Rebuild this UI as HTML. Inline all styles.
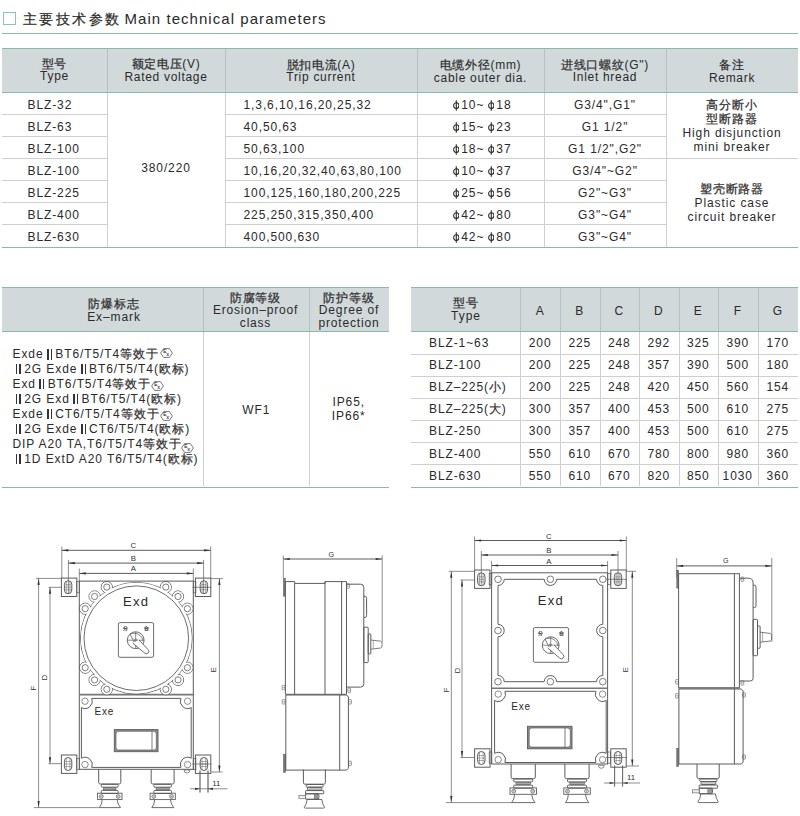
<!DOCTYPE html>
<html><head><meta charset="utf-8"><style>
html,body{margin:0;padding:0;background:#fff;}
body{width:800px;height:816px;position:relative;overflow:hidden;font-family:"Liberation Sans",sans-serif;color:#2a2a2a;}
.t{position:absolute;white-space:nowrap;}
.ii{display:inline-block;width:5px;height:10.3px;background:linear-gradient(to right,#333 0,#333 1.5px,transparent 1.5px,transparent 3.5px,#333 3.5px,#333 5px);margin:0 3.5px 0 3.3px;vertical-align:-1px;}
.c{-webkit-text-stroke:0.25px #3a3a3a;}
</style></head><body>
<div style="position:absolute;left:3px;top:12px;width:13px;height:13px;border:1px solid #8ec3b0;box-sizing:border-box"></div>
<div class="t" style="left:22.8px;top:11.25px;width:107.2px;text-align:left;font-size:14px;letter-spacing:2.45px;line-height:16.099999999999998px;-webkit-text-stroke:0.1px #333;"><span class="c">主要技术参数</span></div>
<div class="t" style="left:124.5px;top:9.88px;width:275.5px;text-align:left;font-size:15px;letter-spacing:1.05px;line-height:17.25px;">Main technical parameters</div>
<div style="position:absolute;left:2px;top:33px;width:796px;height:1px;background:#88baa7"></div>
<div style="position:absolute;left:2px;top:48px;width:796px;height:44px;background:#d1d9db"></div>
<div style="position:absolute;left:2px;top:48px;width:796px;height:1px;background:#88baa7"></div>
<div style="position:absolute;left:2px;top:92px;width:796px;height:1px;background:#88baa7"></div>
<div style="position:absolute;left:107px;top:49px;width:1px;height:43px;background:#b8c0c2"></div>
<div style="position:absolute;left:225px;top:49px;width:1px;height:43px;background:#b8c0c2"></div>
<div style="position:absolute;left:417px;top:49px;width:1px;height:43px;background:#b8c0c2"></div>
<div style="position:absolute;left:544px;top:49px;width:1px;height:43px;background:#b8c0c2"></div>
<div style="position:absolute;left:666px;top:49px;width:1px;height:43px;background:#b8c0c2"></div>
<div style="position:absolute;left:107px;top:93px;width:1px;height:154px;background:#cfcfcf"></div>
<div style="position:absolute;left:225px;top:93px;width:1px;height:154px;background:#cfcfcf"></div>
<div style="position:absolute;left:417px;top:93px;width:1px;height:154px;background:#cfcfcf"></div>
<div style="position:absolute;left:544px;top:93px;width:1px;height:154px;background:#cfcfcf"></div>
<div style="position:absolute;left:666px;top:93px;width:1px;height:154px;background:#cfcfcf"></div>
<div style="position:absolute;left:2px;top:114px;width:105px;height:1px;background:#cfcfcf"></div>
<div style="position:absolute;left:225px;top:114px;width:441px;height:1px;background:#cfcfcf"></div>
<div style="position:absolute;left:2px;top:136px;width:105px;height:1px;background:#cfcfcf"></div>
<div style="position:absolute;left:225px;top:136px;width:441px;height:1px;background:#cfcfcf"></div>
<div style="position:absolute;left:2px;top:158px;width:105px;height:1px;background:#cfcfcf"></div>
<div style="position:absolute;left:225px;top:158px;width:441px;height:1px;background:#cfcfcf"></div>
<div style="position:absolute;left:666px;top:158px;width:132px;height:1px;background:#cfcfcf"></div>
<div style="position:absolute;left:2px;top:180px;width:105px;height:1px;background:#cfcfcf"></div>
<div style="position:absolute;left:225px;top:180px;width:441px;height:1px;background:#cfcfcf"></div>
<div style="position:absolute;left:2px;top:202px;width:105px;height:1px;background:#cfcfcf"></div>
<div style="position:absolute;left:225px;top:202px;width:441px;height:1px;background:#cfcfcf"></div>
<div style="position:absolute;left:2px;top:224px;width:105px;height:1px;background:#cfcfcf"></div>
<div style="position:absolute;left:225px;top:224px;width:441px;height:1px;background:#cfcfcf"></div>
<div style="position:absolute;left:2px;top:247px;width:796px;height:1px;background:#88baa7"></div>
<div class="t" style="left:2px;top:57.65px;width:105px;text-align:center;font-size:12px;letter-spacing:0.7px;line-height:12.5px;"><span class="c">型号</span><br>Type</div>
<div class="t" style="left:107px;top:58.05px;width:118px;text-align:center;font-size:12px;letter-spacing:0.7px;line-height:12.5px;"><span class="c">额定电压</span>(V)<br>Rated voltage</div>
<div class="t" style="left:225px;top:58.75px;width:192px;text-align:center;font-size:12px;letter-spacing:0.7px;line-height:12.5px;"><span class="c">脱扣电流</span>(A)<br>Trip current</div>
<div class="t" style="left:417px;top:59.45px;width:127px;text-align:center;font-size:12px;letter-spacing:0.7px;line-height:12.5px;"><span class="c">电缆外径</span>(mm)<br>cable outer dia.</div>
<div class="t" style="left:544px;top:58.85px;width:122px;text-align:center;font-size:12px;letter-spacing:0.7px;line-height:12.5px;"><span class="c">进线口螺纹</span>(G")<br>Inlet hread</div>
<div class="t" style="left:666px;top:59.05px;width:132px;text-align:center;font-size:12px;letter-spacing:0.7px;line-height:12.5px;"><span class="c">备注</span><br>Remark</div>
<div class="t" style="left:27.5px;top:98.50px;width:79.5px;text-align:left;font-size:12px;letter-spacing:0.9px;line-height:13.799999999999999px;">BLZ-32</div>
<div class="t" style="left:243.5px;top:98.50px;width:173.5px;text-align:left;font-size:12px;letter-spacing:0.9px;line-height:13.799999999999999px;">1,3,6,10,16,20,25,32</div>
<div class="t" style="left:419px;top:98.50px;width:125px;text-align:center;font-size:12px;letter-spacing:0.9px;line-height:13.799999999999999px;"><svg width="6.6" height="10.8" viewBox="0 0 6.6 10.8" style="vertical-align:-2.2px;margin:0 2.2px 0 1px"><ellipse cx="3.3" cy="5.55" rx="2.65" ry="2.85" fill="none" stroke="#2a2a2a" stroke-width="1.05"/><line x1="3.3" y1="0.2" x2="3.3" y2="10.8" stroke="#2a2a2a" stroke-width="1.1"/></svg>10~<svg width="6.6" height="10.8" viewBox="0 0 6.6 10.8" style="vertical-align:-2.2px;margin:0 2.2px 0 3.2px"><ellipse cx="3.3" cy="5.55" rx="2.65" ry="2.85" fill="none" stroke="#2a2a2a" stroke-width="1.05"/><line x1="3.3" y1="0.2" x2="3.3" y2="10.8" stroke="#2a2a2a" stroke-width="1.1"/></svg>18</div>
<div class="t" style="left:544px;top:98.50px;width:122px;text-align:center;font-size:12px;letter-spacing:0.9px;line-height:13.799999999999999px;">G3/4",G1"</div>
<div class="t" style="left:27.5px;top:120.50px;width:79.5px;text-align:left;font-size:12px;letter-spacing:0.9px;line-height:13.799999999999999px;">BLZ-63</div>
<div class="t" style="left:243.5px;top:120.50px;width:173.5px;text-align:left;font-size:12px;letter-spacing:0.9px;line-height:13.799999999999999px;">40,50,63</div>
<div class="t" style="left:419px;top:120.50px;width:125px;text-align:center;font-size:12px;letter-spacing:0.9px;line-height:13.799999999999999px;"><svg width="6.6" height="10.8" viewBox="0 0 6.6 10.8" style="vertical-align:-2.2px;margin:0 2.2px 0 1px"><ellipse cx="3.3" cy="5.55" rx="2.65" ry="2.85" fill="none" stroke="#2a2a2a" stroke-width="1.05"/><line x1="3.3" y1="0.2" x2="3.3" y2="10.8" stroke="#2a2a2a" stroke-width="1.1"/></svg>15~<svg width="6.6" height="10.8" viewBox="0 0 6.6 10.8" style="vertical-align:-2.2px;margin:0 2.2px 0 3.2px"><ellipse cx="3.3" cy="5.55" rx="2.65" ry="2.85" fill="none" stroke="#2a2a2a" stroke-width="1.05"/><line x1="3.3" y1="0.2" x2="3.3" y2="10.8" stroke="#2a2a2a" stroke-width="1.1"/></svg>23</div>
<div class="t" style="left:544px;top:120.50px;width:122px;text-align:center;font-size:12px;letter-spacing:0.9px;line-height:13.799999999999999px;">G1 1/2"</div>
<div class="t" style="left:27.5px;top:142.50px;width:79.5px;text-align:left;font-size:12px;letter-spacing:0.9px;line-height:13.799999999999999px;">BLZ-100</div>
<div class="t" style="left:243.5px;top:142.50px;width:173.5px;text-align:left;font-size:12px;letter-spacing:0.9px;line-height:13.799999999999999px;">50,63,100</div>
<div class="t" style="left:419px;top:142.50px;width:125px;text-align:center;font-size:12px;letter-spacing:0.9px;line-height:13.799999999999999px;"><svg width="6.6" height="10.8" viewBox="0 0 6.6 10.8" style="vertical-align:-2.2px;margin:0 2.2px 0 1px"><ellipse cx="3.3" cy="5.55" rx="2.65" ry="2.85" fill="none" stroke="#2a2a2a" stroke-width="1.05"/><line x1="3.3" y1="0.2" x2="3.3" y2="10.8" stroke="#2a2a2a" stroke-width="1.1"/></svg>18~<svg width="6.6" height="10.8" viewBox="0 0 6.6 10.8" style="vertical-align:-2.2px;margin:0 2.2px 0 3.2px"><ellipse cx="3.3" cy="5.55" rx="2.65" ry="2.85" fill="none" stroke="#2a2a2a" stroke-width="1.05"/><line x1="3.3" y1="0.2" x2="3.3" y2="10.8" stroke="#2a2a2a" stroke-width="1.1"/></svg>37</div>
<div class="t" style="left:544px;top:142.50px;width:122px;text-align:center;font-size:12px;letter-spacing:0.9px;line-height:13.799999999999999px;">G1 1/2",G2"</div>
<div class="t" style="left:27.5px;top:164.50px;width:79.5px;text-align:left;font-size:12px;letter-spacing:0.9px;line-height:13.799999999999999px;">BLZ-100</div>
<div class="t" style="left:243.5px;top:164.50px;width:173.5px;text-align:left;font-size:12px;letter-spacing:0.9px;line-height:13.799999999999999px;">10,16,20,32,40,63,80,100</div>
<div class="t" style="left:419px;top:164.50px;width:125px;text-align:center;font-size:12px;letter-spacing:0.9px;line-height:13.799999999999999px;"><svg width="6.6" height="10.8" viewBox="0 0 6.6 10.8" style="vertical-align:-2.2px;margin:0 2.2px 0 1px"><ellipse cx="3.3" cy="5.55" rx="2.65" ry="2.85" fill="none" stroke="#2a2a2a" stroke-width="1.05"/><line x1="3.3" y1="0.2" x2="3.3" y2="10.8" stroke="#2a2a2a" stroke-width="1.1"/></svg>10~<svg width="6.6" height="10.8" viewBox="0 0 6.6 10.8" style="vertical-align:-2.2px;margin:0 2.2px 0 3.2px"><ellipse cx="3.3" cy="5.55" rx="2.65" ry="2.85" fill="none" stroke="#2a2a2a" stroke-width="1.05"/><line x1="3.3" y1="0.2" x2="3.3" y2="10.8" stroke="#2a2a2a" stroke-width="1.1"/></svg>37</div>
<div class="t" style="left:544px;top:164.50px;width:122px;text-align:center;font-size:12px;letter-spacing:0.9px;line-height:13.799999999999999px;">G3/4"~G2"</div>
<div class="t" style="left:27.5px;top:186.50px;width:79.5px;text-align:left;font-size:12px;letter-spacing:0.9px;line-height:13.799999999999999px;">BLZ-225</div>
<div class="t" style="left:243.5px;top:186.50px;width:173.5px;text-align:left;font-size:12px;letter-spacing:0.9px;line-height:13.799999999999999px;">100,125,160,180,200,225</div>
<div class="t" style="left:419px;top:186.50px;width:125px;text-align:center;font-size:12px;letter-spacing:0.9px;line-height:13.799999999999999px;"><svg width="6.6" height="10.8" viewBox="0 0 6.6 10.8" style="vertical-align:-2.2px;margin:0 2.2px 0 1px"><ellipse cx="3.3" cy="5.55" rx="2.65" ry="2.85" fill="none" stroke="#2a2a2a" stroke-width="1.05"/><line x1="3.3" y1="0.2" x2="3.3" y2="10.8" stroke="#2a2a2a" stroke-width="1.1"/></svg>25~<svg width="6.6" height="10.8" viewBox="0 0 6.6 10.8" style="vertical-align:-2.2px;margin:0 2.2px 0 3.2px"><ellipse cx="3.3" cy="5.55" rx="2.65" ry="2.85" fill="none" stroke="#2a2a2a" stroke-width="1.05"/><line x1="3.3" y1="0.2" x2="3.3" y2="10.8" stroke="#2a2a2a" stroke-width="1.1"/></svg>56</div>
<div class="t" style="left:544px;top:186.50px;width:122px;text-align:center;font-size:12px;letter-spacing:0.9px;line-height:13.799999999999999px;">G2"~G3"</div>
<div class="t" style="left:27.5px;top:208.50px;width:79.5px;text-align:left;font-size:12px;letter-spacing:0.9px;line-height:13.799999999999999px;">BLZ-400</div>
<div class="t" style="left:243.5px;top:208.50px;width:173.5px;text-align:left;font-size:12px;letter-spacing:0.9px;line-height:13.799999999999999px;">225,250,315,350,400</div>
<div class="t" style="left:419px;top:208.50px;width:125px;text-align:center;font-size:12px;letter-spacing:0.9px;line-height:13.799999999999999px;"><svg width="6.6" height="10.8" viewBox="0 0 6.6 10.8" style="vertical-align:-2.2px;margin:0 2.2px 0 1px"><ellipse cx="3.3" cy="5.55" rx="2.65" ry="2.85" fill="none" stroke="#2a2a2a" stroke-width="1.05"/><line x1="3.3" y1="0.2" x2="3.3" y2="10.8" stroke="#2a2a2a" stroke-width="1.1"/></svg>42~<svg width="6.6" height="10.8" viewBox="0 0 6.6 10.8" style="vertical-align:-2.2px;margin:0 2.2px 0 3.2px"><ellipse cx="3.3" cy="5.55" rx="2.65" ry="2.85" fill="none" stroke="#2a2a2a" stroke-width="1.05"/><line x1="3.3" y1="0.2" x2="3.3" y2="10.8" stroke="#2a2a2a" stroke-width="1.1"/></svg>80</div>
<div class="t" style="left:544px;top:208.50px;width:122px;text-align:center;font-size:12px;letter-spacing:0.9px;line-height:13.799999999999999px;">G3"~G4"</div>
<div class="t" style="left:27.5px;top:230.50px;width:79.5px;text-align:left;font-size:12px;letter-spacing:0.9px;line-height:13.799999999999999px;">BLZ-630</div>
<div class="t" style="left:243.5px;top:230.50px;width:173.5px;text-align:left;font-size:12px;letter-spacing:0.9px;line-height:13.799999999999999px;">400,500,630</div>
<div class="t" style="left:419px;top:230.50px;width:125px;text-align:center;font-size:12px;letter-spacing:0.9px;line-height:13.799999999999999px;"><svg width="6.6" height="10.8" viewBox="0 0 6.6 10.8" style="vertical-align:-2.2px;margin:0 2.2px 0 1px"><ellipse cx="3.3" cy="5.55" rx="2.65" ry="2.85" fill="none" stroke="#2a2a2a" stroke-width="1.05"/><line x1="3.3" y1="0.2" x2="3.3" y2="10.8" stroke="#2a2a2a" stroke-width="1.1"/></svg>42~<svg width="6.6" height="10.8" viewBox="0 0 6.6 10.8" style="vertical-align:-2.2px;margin:0 2.2px 0 3.2px"><ellipse cx="3.3" cy="5.55" rx="2.65" ry="2.85" fill="none" stroke="#2a2a2a" stroke-width="1.05"/><line x1="3.3" y1="0.2" x2="3.3" y2="10.8" stroke="#2a2a2a" stroke-width="1.1"/></svg>80</div>
<div class="t" style="left:544px;top:230.50px;width:122px;text-align:center;font-size:12px;letter-spacing:0.9px;line-height:13.799999999999999px;">G3"~G4"</div>
<div class="t" style="left:107px;top:162.10px;width:118px;text-align:center;font-size:12px;letter-spacing:0.9px;line-height:13.799999999999999px;">380/220</div>
<div class="t" style="left:666px;top:98.00px;width:132px;text-align:center;font-size:12px;letter-spacing:0.9px;line-height:14px;"><span class="c">高分断小</span><br><span class="c">型断路器</span><br>High disjunction<br>mini breaker</div>
<div class="t" style="left:666px;top:182.00px;width:132px;text-align:center;font-size:12px;letter-spacing:0.9px;line-height:14px;"><span class="c">塑壳断路器</span><br>Plastic case<br>circuit breaker</div>
<div style="position:absolute;left:2px;top:287.4px;width:386.5px;height:43.900000000000034px;background:#d1d9db"></div>
<div style="position:absolute;left:2px;top:287.4px;width:386.5px;height:1px;background:#88baa7"></div>
<div style="position:absolute;left:2px;top:331.3px;width:386.5px;height:1px;background:#88baa7"></div>
<div style="position:absolute;left:202.5px;top:288.4px;width:1px;height:42.900000000000034px;background:#b8c0c2"></div>
<div style="position:absolute;left:202.5px;top:332.3px;width:1px;height:154.2px;background:#cfcfcf"></div>
<div style="position:absolute;left:308.5px;top:288.4px;width:1px;height:42.900000000000034px;background:#b8c0c2"></div>
<div style="position:absolute;left:308.5px;top:332.3px;width:1px;height:154.2px;background:#cfcfcf"></div>
<div style="position:absolute;left:2px;top:486.5px;width:386.5px;height:1px;background:#88baa7"></div>
<div class="t" style="left:25.5px;top:298.25px;width:177.0px;text-align:center;font-size:12px;letter-spacing:0.9px;line-height:12.5px;"><span class="c">防爆标志</span><br>Ex–mark</div>
<div class="t" style="left:202.5px;top:292.00px;width:106.0px;text-align:center;font-size:12px;letter-spacing:0.8px;line-height:12.4px;"><span class="c">防腐等级</span><br>Erosion–proof<br>class</div>
<div class="t" style="left:309.5px;top:292.00px;width:79.0px;text-align:center;font-size:12px;letter-spacing:0.85px;line-height:12.4px;"><span class="c">防护等级</span><br>Degree of<br>protection</div>
<div class="t" style="left:12.5px;top:348.35px;width:189.5px;text-align:left;font-size:12px;letter-spacing:0.9px;line-height:13.799999999999999px;">Exde<span class="ii"></span>BT6/T5/T4<span class="c">等效于</span><svg width="13" height="10" viewBox="0 0 13 10" style="vertical-align:0.3px;margin-left:1.2px"><path d="M0.6 5 L3.6 0.6 H9.4 L12.4 5 L9.4 9.4 H3.6 Z" fill="none" stroke="#555" stroke-width="0.8"/><text x="3.3" y="5.4" font-size="4.8" font-family="Liberation Sans" fill="#333" stroke="#333" stroke-width="0.15">E</text><text x="6.4" y="7.6" font-size="4.8" font-family="Liberation Sans" fill="#333" stroke="#333" stroke-width="0.15">x</text></svg></div>
<div class="t" style="left:12.5px;top:363.35px;width:189.5px;text-align:left;font-size:12px;letter-spacing:0.9px;line-height:13.799999999999999px;"><span class="ii"></span>2G Exde<span class="ii"></span>BT6/T5/T4(<span class="c">欧标</span>)</div>
<div class="t" style="left:12.5px;top:378.35px;width:189.5px;text-align:left;font-size:12px;letter-spacing:0.9px;line-height:13.799999999999999px;">Exd<span class="ii"></span>BT6/T5/T4<span class="c">等效于</span><svg width="13" height="10" viewBox="0 0 13 10" style="vertical-align:-2.4px;margin-left:0.3px"><path d="M0.6 5 L3.6 0.6 H9.4 L12.4 5 L9.4 9.4 H3.6 Z" fill="none" stroke="#555" stroke-width="0.8"/><text x="3.3" y="5.4" font-size="4.8" font-family="Liberation Sans" fill="#333" stroke="#333" stroke-width="0.15">E</text><text x="6.4" y="7.6" font-size="4.8" font-family="Liberation Sans" fill="#333" stroke="#333" stroke-width="0.15">x</text></svg></div>
<div class="t" style="left:12.5px;top:393.35px;width:189.5px;text-align:left;font-size:12px;letter-spacing:0.9px;line-height:13.799999999999999px;"><span class="ii"></span>2G Exd<span class="ii"></span>BT6/T5/T4(<span class="c">欧标</span>)</div>
<div class="t" style="left:12.5px;top:408.35px;width:189.5px;text-align:left;font-size:12px;letter-spacing:0.9px;line-height:13.799999999999999px;">Exde<span class="ii"></span>CT6/T5/T4<span class="c">等效于</span><svg width="13" height="10" viewBox="0 0 13 10" style="vertical-align:-2.4px;margin-left:1.0px"><path d="M0.6 5 L3.6 0.6 H9.4 L12.4 5 L9.4 9.4 H3.6 Z" fill="none" stroke="#555" stroke-width="0.8"/><text x="3.3" y="5.4" font-size="4.8" font-family="Liberation Sans" fill="#333" stroke="#333" stroke-width="0.15">E</text><text x="6.4" y="7.6" font-size="4.8" font-family="Liberation Sans" fill="#333" stroke="#333" stroke-width="0.15">x</text></svg></div>
<div class="t" style="left:12.5px;top:423.35px;width:189.5px;text-align:left;font-size:12px;letter-spacing:0.9px;line-height:13.799999999999999px;"><span class="ii"></span>2G Exde<span class="ii"></span>CT6/T5/T4(<span class="c">欧标</span>)</div>
<div class="t" style="left:12.5px;top:438.35px;width:189.5px;text-align:left;font-size:12px;letter-spacing:0.9px;line-height:13.799999999999999px;">DIP A20 TA,T6/T5/T4<span class="c">等效于</span><svg width="13" height="10" viewBox="0 0 13 10" style="vertical-align:-4.5px;margin-left:-0.6px"><path d="M0.6 5 L3.6 0.6 H9.4 L12.4 5 L9.4 9.4 H3.6 Z" fill="none" stroke="#555" stroke-width="0.8"/><text x="3.3" y="5.4" font-size="4.8" font-family="Liberation Sans" fill="#333" stroke="#333" stroke-width="0.15">E</text><text x="6.4" y="7.6" font-size="4.8" font-family="Liberation Sans" fill="#333" stroke="#333" stroke-width="0.15">x</text></svg></div>
<div class="t" style="left:12.5px;top:453.35px;width:189.5px;text-align:left;font-size:12px;letter-spacing:0.9px;line-height:13.799999999999999px;"><span class="ii"></span>1D ExtD A20 T6/T5/T4(<span class="c">欧标</span>)</div>
<div class="t" style="left:204px;top:403.60px;width:104.5px;text-align:center;font-size:12px;letter-spacing:0.9px;line-height:13.799999999999999px;">WF1</div>
<div class="t" style="left:309px;top:396.20px;width:79.5px;text-align:center;font-size:12px;letter-spacing:0.9px;line-height:13.6px;">IP65,<br>IP66*</div>
<div style="position:absolute;left:410.5px;top:287.4px;width:387.5px;height:43.900000000000034px;background:#d1d9db"></div>
<div style="position:absolute;left:410.5px;top:287.4px;width:387.5px;height:1px;background:#88baa7"></div>
<div style="position:absolute;left:410.5px;top:331.3px;width:387.5px;height:1px;background:#88baa7"></div>
<div style="position:absolute;left:520.3px;top:288.4px;width:1px;height:42.900000000000034px;background:#b8c0c2"></div>
<div style="position:absolute;left:520.3px;top:332.3px;width:1px;height:154.2px;background:#cfcfcf"></div>
<div style="position:absolute;left:560px;top:288.4px;width:1px;height:42.900000000000034px;background:#b8c0c2"></div>
<div style="position:absolute;left:560px;top:332.3px;width:1px;height:154.2px;background:#cfcfcf"></div>
<div style="position:absolute;left:599.5px;top:288.4px;width:1px;height:42.900000000000034px;background:#b8c0c2"></div>
<div style="position:absolute;left:599.5px;top:332.3px;width:1px;height:154.2px;background:#cfcfcf"></div>
<div style="position:absolute;left:639px;top:288.4px;width:1px;height:42.900000000000034px;background:#b8c0c2"></div>
<div style="position:absolute;left:639px;top:332.3px;width:1px;height:154.2px;background:#cfcfcf"></div>
<div style="position:absolute;left:678.5px;top:288.4px;width:1px;height:42.900000000000034px;background:#b8c0c2"></div>
<div style="position:absolute;left:678.5px;top:332.3px;width:1px;height:154.2px;background:#cfcfcf"></div>
<div style="position:absolute;left:718px;top:288.4px;width:1px;height:42.900000000000034px;background:#b8c0c2"></div>
<div style="position:absolute;left:718px;top:332.3px;width:1px;height:154.2px;background:#cfcfcf"></div>
<div style="position:absolute;left:757.5px;top:288.4px;width:1px;height:42.900000000000034px;background:#b8c0c2"></div>
<div style="position:absolute;left:757.5px;top:332.3px;width:1px;height:154.2px;background:#cfcfcf"></div>
<div style="position:absolute;left:410.5px;top:354.4px;width:387.5px;height:1px;background:#cfcfcf"></div>
<div style="position:absolute;left:410.5px;top:376.4px;width:387.5px;height:1px;background:#cfcfcf"></div>
<div style="position:absolute;left:410.5px;top:398.4px;width:387.5px;height:1px;background:#cfcfcf"></div>
<div style="position:absolute;left:410.5px;top:420.4px;width:387.5px;height:1px;background:#cfcfcf"></div>
<div style="position:absolute;left:410.5px;top:442.4px;width:387.5px;height:1px;background:#cfcfcf"></div>
<div style="position:absolute;left:410.5px;top:464.4px;width:387.5px;height:1px;background:#cfcfcf"></div>
<div style="position:absolute;left:410.5px;top:486.5px;width:387.5px;height:1px;background:#88baa7"></div>
<div class="t" style="left:411.5px;top:296.55px;width:109.0px;text-align:center;font-size:12px;letter-spacing:1.0px;line-height:13.3px;"><span class="c">型号</span><br>Type</div>
<div class="t" style="left:520.3px;top:304.85px;width:39.700000000000045px;text-align:center;font-size:12px;letter-spacing:0.9px;line-height:13.799999999999999px;">A</div>
<div class="t" style="left:560px;top:304.85px;width:39.5px;text-align:center;font-size:12px;letter-spacing:0.9px;line-height:13.799999999999999px;">B</div>
<div class="t" style="left:599.5px;top:304.85px;width:39.5px;text-align:center;font-size:12px;letter-spacing:0.9px;line-height:13.799999999999999px;">C</div>
<div class="t" style="left:639px;top:304.85px;width:39.5px;text-align:center;font-size:12px;letter-spacing:0.9px;line-height:13.799999999999999px;">D</div>
<div class="t" style="left:678.5px;top:304.85px;width:39.5px;text-align:center;font-size:12px;letter-spacing:0.9px;line-height:13.799999999999999px;">E</div>
<div class="t" style="left:718px;top:304.85px;width:39.5px;text-align:center;font-size:12px;letter-spacing:0.9px;line-height:13.799999999999999px;">F</div>
<div class="t" style="left:757.5px;top:304.85px;width:40.5px;text-align:center;font-size:12px;letter-spacing:0.9px;line-height:13.799999999999999px;">G</div>
<div class="t" style="left:429px;top:336.85px;width:91px;text-align:left;font-size:12px;letter-spacing:0.9px;line-height:13.799999999999999px;">BLZ-1~63</div>
<div class="t" style="left:520.3px;top:336.85px;width:39.700000000000045px;text-align:center;font-size:12px;letter-spacing:0.9px;line-height:13.799999999999999px;">200</div>
<div class="t" style="left:560px;top:336.85px;width:39.5px;text-align:center;font-size:12px;letter-spacing:0.9px;line-height:13.799999999999999px;">225</div>
<div class="t" style="left:599.5px;top:336.85px;width:39.5px;text-align:center;font-size:12px;letter-spacing:0.9px;line-height:13.799999999999999px;">248</div>
<div class="t" style="left:639px;top:336.85px;width:39.5px;text-align:center;font-size:12px;letter-spacing:0.9px;line-height:13.799999999999999px;">292</div>
<div class="t" style="left:678.5px;top:336.85px;width:39.5px;text-align:center;font-size:12px;letter-spacing:0.9px;line-height:13.799999999999999px;">325</div>
<div class="t" style="left:718px;top:336.85px;width:39.5px;text-align:center;font-size:12px;letter-spacing:0.9px;line-height:13.799999999999999px;">390</div>
<div class="t" style="left:757.5px;top:336.85px;width:40.5px;text-align:center;font-size:12px;letter-spacing:0.9px;line-height:13.799999999999999px;">170</div>
<div class="t" style="left:429px;top:358.99px;width:91px;text-align:left;font-size:12px;letter-spacing:0.9px;line-height:13.799999999999999px;">BLZ-100</div>
<div class="t" style="left:520.3px;top:358.99px;width:39.700000000000045px;text-align:center;font-size:12px;letter-spacing:0.9px;line-height:13.799999999999999px;">200</div>
<div class="t" style="left:560px;top:358.99px;width:39.5px;text-align:center;font-size:12px;letter-spacing:0.9px;line-height:13.799999999999999px;">225</div>
<div class="t" style="left:599.5px;top:358.99px;width:39.5px;text-align:center;font-size:12px;letter-spacing:0.9px;line-height:13.799999999999999px;">248</div>
<div class="t" style="left:639px;top:358.99px;width:39.5px;text-align:center;font-size:12px;letter-spacing:0.9px;line-height:13.799999999999999px;">357</div>
<div class="t" style="left:678.5px;top:358.99px;width:39.5px;text-align:center;font-size:12px;letter-spacing:0.9px;line-height:13.799999999999999px;">390</div>
<div class="t" style="left:718px;top:358.99px;width:39.5px;text-align:center;font-size:12px;letter-spacing:0.9px;line-height:13.799999999999999px;">500</div>
<div class="t" style="left:757.5px;top:358.99px;width:40.5px;text-align:center;font-size:12px;letter-spacing:0.9px;line-height:13.799999999999999px;">180</div>
<div class="t" style="left:429px;top:381.13px;width:91px;text-align:left;font-size:12px;letter-spacing:0.9px;line-height:13.799999999999999px;">BLZ–225(<span class="c">小</span>)</div>
<div class="t" style="left:520.3px;top:381.13px;width:39.700000000000045px;text-align:center;font-size:12px;letter-spacing:0.9px;line-height:13.799999999999999px;">200</div>
<div class="t" style="left:560px;top:381.13px;width:39.5px;text-align:center;font-size:12px;letter-spacing:0.9px;line-height:13.799999999999999px;">225</div>
<div class="t" style="left:599.5px;top:381.13px;width:39.5px;text-align:center;font-size:12px;letter-spacing:0.9px;line-height:13.799999999999999px;">248</div>
<div class="t" style="left:639px;top:381.13px;width:39.5px;text-align:center;font-size:12px;letter-spacing:0.9px;line-height:13.799999999999999px;">420</div>
<div class="t" style="left:678.5px;top:381.13px;width:39.5px;text-align:center;font-size:12px;letter-spacing:0.9px;line-height:13.799999999999999px;">450</div>
<div class="t" style="left:718px;top:381.13px;width:39.5px;text-align:center;font-size:12px;letter-spacing:0.9px;line-height:13.799999999999999px;">560</div>
<div class="t" style="left:757.5px;top:381.13px;width:40.5px;text-align:center;font-size:12px;letter-spacing:0.9px;line-height:13.799999999999999px;">154</div>
<div class="t" style="left:429px;top:403.27px;width:91px;text-align:left;font-size:12px;letter-spacing:0.9px;line-height:13.799999999999999px;">BLZ–225(<span class="c">大</span>)</div>
<div class="t" style="left:520.3px;top:403.27px;width:39.700000000000045px;text-align:center;font-size:12px;letter-spacing:0.9px;line-height:13.799999999999999px;">300</div>
<div class="t" style="left:560px;top:403.27px;width:39.5px;text-align:center;font-size:12px;letter-spacing:0.9px;line-height:13.799999999999999px;">357</div>
<div class="t" style="left:599.5px;top:403.27px;width:39.5px;text-align:center;font-size:12px;letter-spacing:0.9px;line-height:13.799999999999999px;">400</div>
<div class="t" style="left:639px;top:403.27px;width:39.5px;text-align:center;font-size:12px;letter-spacing:0.9px;line-height:13.799999999999999px;">453</div>
<div class="t" style="left:678.5px;top:403.27px;width:39.5px;text-align:center;font-size:12px;letter-spacing:0.9px;line-height:13.799999999999999px;">500</div>
<div class="t" style="left:718px;top:403.27px;width:39.5px;text-align:center;font-size:12px;letter-spacing:0.9px;line-height:13.799999999999999px;">610</div>
<div class="t" style="left:757.5px;top:403.27px;width:40.5px;text-align:center;font-size:12px;letter-spacing:0.9px;line-height:13.799999999999999px;">275</div>
<div class="t" style="left:429px;top:425.41px;width:91px;text-align:left;font-size:12px;letter-spacing:0.9px;line-height:13.799999999999999px;">BLZ-250</div>
<div class="t" style="left:520.3px;top:425.41px;width:39.700000000000045px;text-align:center;font-size:12px;letter-spacing:0.9px;line-height:13.799999999999999px;">300</div>
<div class="t" style="left:560px;top:425.41px;width:39.5px;text-align:center;font-size:12px;letter-spacing:0.9px;line-height:13.799999999999999px;">357</div>
<div class="t" style="left:599.5px;top:425.41px;width:39.5px;text-align:center;font-size:12px;letter-spacing:0.9px;line-height:13.799999999999999px;">400</div>
<div class="t" style="left:639px;top:425.41px;width:39.5px;text-align:center;font-size:12px;letter-spacing:0.9px;line-height:13.799999999999999px;">453</div>
<div class="t" style="left:678.5px;top:425.41px;width:39.5px;text-align:center;font-size:12px;letter-spacing:0.9px;line-height:13.799999999999999px;">500</div>
<div class="t" style="left:718px;top:425.41px;width:39.5px;text-align:center;font-size:12px;letter-spacing:0.9px;line-height:13.799999999999999px;">610</div>
<div class="t" style="left:757.5px;top:425.41px;width:40.5px;text-align:center;font-size:12px;letter-spacing:0.9px;line-height:13.799999999999999px;">275</div>
<div class="t" style="left:429px;top:447.55px;width:91px;text-align:left;font-size:12px;letter-spacing:0.9px;line-height:13.799999999999999px;">BLZ-400</div>
<div class="t" style="left:520.3px;top:447.55px;width:39.700000000000045px;text-align:center;font-size:12px;letter-spacing:0.9px;line-height:13.799999999999999px;">550</div>
<div class="t" style="left:560px;top:447.55px;width:39.5px;text-align:center;font-size:12px;letter-spacing:0.9px;line-height:13.799999999999999px;">610</div>
<div class="t" style="left:599.5px;top:447.55px;width:39.5px;text-align:center;font-size:12px;letter-spacing:0.9px;line-height:13.799999999999999px;">670</div>
<div class="t" style="left:639px;top:447.55px;width:39.5px;text-align:center;font-size:12px;letter-spacing:0.9px;line-height:13.799999999999999px;">780</div>
<div class="t" style="left:678.5px;top:447.55px;width:39.5px;text-align:center;font-size:12px;letter-spacing:0.9px;line-height:13.799999999999999px;">800</div>
<div class="t" style="left:718px;top:447.55px;width:39.5px;text-align:center;font-size:12px;letter-spacing:0.9px;line-height:13.799999999999999px;">980</div>
<div class="t" style="left:757.5px;top:447.55px;width:40.5px;text-align:center;font-size:12px;letter-spacing:0.9px;line-height:13.799999999999999px;">360</div>
<div class="t" style="left:429px;top:469.69px;width:91px;text-align:left;font-size:12px;letter-spacing:0.9px;line-height:13.799999999999999px;">BLZ-630</div>
<div class="t" style="left:520.3px;top:469.69px;width:39.700000000000045px;text-align:center;font-size:12px;letter-spacing:0.9px;line-height:13.799999999999999px;">550</div>
<div class="t" style="left:560px;top:469.69px;width:39.5px;text-align:center;font-size:12px;letter-spacing:0.9px;line-height:13.799999999999999px;">610</div>
<div class="t" style="left:599.5px;top:469.69px;width:39.5px;text-align:center;font-size:12px;letter-spacing:0.9px;line-height:13.799999999999999px;">670</div>
<div class="t" style="left:639px;top:469.69px;width:39.5px;text-align:center;font-size:12px;letter-spacing:0.9px;line-height:13.799999999999999px;">820</div>
<div class="t" style="left:678.5px;top:469.69px;width:39.5px;text-align:center;font-size:12px;letter-spacing:0.9px;line-height:13.799999999999999px;">850</div>
<div class="t" style="left:718px;top:469.69px;width:39.5px;text-align:center;font-size:12px;letter-spacing:0.9px;line-height:13.799999999999999px;">1030</div>
<div class="t" style="left:757.5px;top:469.69px;width:40.5px;text-align:center;font-size:12px;letter-spacing:0.9px;line-height:13.799999999999999px;">360</div>
<svg width="800" height="816" viewBox="0 0 800 816" style="position:absolute;left:0;top:0" font-family="Liberation Sans, sans-serif"><line x1="61.8" y1="550.3" x2="210.7" y2="550.3" stroke="#5c5c5c" stroke-width="1.0"/><polygon points="61.8,550.3 68.3,549.2 68.3,551.4" fill="#333"/><polygon points="210.7,550.3 204.2,551.4 204.2,549.2" fill="#333"/><text x="133.4" y="548.3" font-size="7.8" text-anchor="middle" fill="#333">C</text><line x1="68.4" y1="563.1" x2="203.6" y2="563.1" stroke="#5c5c5c" stroke-width="1.0"/><polygon points="68.4,563.1 74.9,562 74.9,564.2" fill="#333"/><polygon points="203.6,563.1 197.1,564.2 197.1,562" fill="#333"/><text x="133.4" y="561.1" font-size="7.8" text-anchor="middle" fill="#333">B</text><line x1="79.3" y1="573.4" x2="193.3" y2="573.4" stroke="#5c5c5c" stroke-width="1.0"/><polygon points="79.3,573.4 85.8,572.3 85.8,574.5" fill="#333"/><polygon points="193.3,573.4 186.8,574.5 186.8,572.3" fill="#333"/><text x="133.4" y="571.4" font-size="7.8" text-anchor="middle" fill="#333">A</text><line x1="61.8" y1="546.4" x2="61.8" y2="578.1" stroke="#5c5c5c" stroke-width="0.7"/><line x1="210.7" y1="546.4" x2="210.7" y2="578.1" stroke="#5c5c5c" stroke-width="0.7"/><line x1="68.4" y1="559.9" x2="68.4" y2="593.5" stroke="#5c5c5c" stroke-width="0.7"/><line x1="203.6" y1="559.9" x2="203.6" y2="593.5" stroke="#5c5c5c" stroke-width="0.7"/><line x1="79.3" y1="568.5" x2="79.3" y2="581.1" stroke="#5c5c5c" stroke-width="0.7"/><line x1="193.3" y1="568.5" x2="193.3" y2="581.1" stroke="#5c5c5c" stroke-width="0.7"/><line x1="200" y1="770.5" x2="200" y2="792.5" stroke="#5c5c5c" stroke-width="0.7"/><line x1="208" y1="770.5" x2="208" y2="792.5" stroke="#5c5c5c" stroke-width="0.7"/><line x1="36" y1="578.4" x2="61.8" y2="578.4" stroke="#5c5c5c" stroke-width="0.7"/><line x1="48.5" y1="587.3" x2="61.8" y2="587.3" stroke="#5c5c5c" stroke-width="0.7"/><line x1="48.5" y1="763.7" x2="61.8" y2="763.7" stroke="#5c5c5c" stroke-width="0.7"/><line x1="33.8" y1="807.6" x2="98.8" y2="807.6" stroke="#5c5c5c" stroke-width="0.7"/><line x1="210.7" y1="578.6" x2="222.8" y2="578.6" stroke="#5c5c5c" stroke-width="0.7"/><line x1="211.3" y1="772" x2="222.5" y2="772" stroke="#5c5c5c" stroke-width="0.7"/><line x1="192.4" y1="587.3" x2="211.5" y2="587.3" stroke="#5c5c5c" stroke-width="0.7"/><line x1="192.4" y1="764" x2="211.5" y2="764" stroke="#5c5c5c" stroke-width="0.7"/><line x1="38.6" y1="578.4" x2="38.6" y2="807.6" stroke="#5c5c5c" stroke-width="0.7"/><polygon points="38.6,578.4 39.7,584.9 37.5,584.9" fill="#333"/><polygon points="38.6,807.6 37.5,801.1 39.7,801.1" fill="#333"/><text x="35.6" y="688.2" font-size="7.6" text-anchor="middle" fill="#333" transform="rotate(-90 35.6 688.2)">F</text><line x1="50" y1="587.3" x2="50" y2="763.7" stroke="#5c5c5c" stroke-width="0.7"/><polygon points="50,587.3 51.1,593.8 48.9,593.8" fill="#333"/><polygon points="50,763.7 48.9,757.2 51.1,757.2" fill="#333"/><text x="46.8" y="677.5" font-size="7.6" text-anchor="middle" fill="#333" transform="rotate(-90 46.8 677.5)">D</text><line x1="219.4" y1="578.6" x2="219.4" y2="772" stroke="#5c5c5c" stroke-width="0.7"/><polygon points="219.4,578.6 220.5,585.1 218.3,585.1" fill="#333"/><polygon points="219.4,772 218.3,765.5 220.5,765.5" fill="#333"/><text x="216" y="669.7" font-size="7.6" text-anchor="middle" fill="#333" transform="rotate(-90 216 669.7)">E</text><rect x="79.3" y="581.1" width="114" height="188.2" rx="0" fill="none" stroke="#5c5c5c" stroke-width="1.0"/><line x1="79.3" y1="694.6" x2="193.3" y2="694.6" stroke="#777" stroke-width="1.6"/><rect x="61.4" y="578.1" width="15.4" height="18.4" rx="0" fill="none" stroke="#5c5c5c" stroke-width="1.0"/><rect x="64.4" y="580.7" width="7.4" height="13" rx="3.7" fill="none" stroke="#5c5c5c" stroke-width="1.0"/><line x1="65" y1="584.7" x2="71.2" y2="584.7" stroke="#5c5c5c" stroke-width="0.5"/><line x1="65" y1="587.2" x2="71.2" y2="587.2" stroke="#5c5c5c" stroke-width="0.5"/><line x1="65" y1="589.7" x2="71.2" y2="589.7" stroke="#5c5c5c" stroke-width="0.5"/><line x1="66.3" y1="581.5" x2="66.3" y2="592.9" stroke="#5c5c5c" stroke-width="0.5"/><line x1="69.9" y1="581.5" x2="69.9" y2="592.9" stroke="#5c5c5c" stroke-width="0.5"/><rect x="195.4" y="578.1" width="15.4" height="18.4" rx="0" fill="none" stroke="#5c5c5c" stroke-width="1.0"/><rect x="200.2" y="580.7" width="7.4" height="13" rx="3.7" fill="none" stroke="#5c5c5c" stroke-width="1.0"/><line x1="200.8" y1="584.7" x2="207" y2="584.7" stroke="#5c5c5c" stroke-width="0.5"/><line x1="200.8" y1="587.2" x2="207" y2="587.2" stroke="#5c5c5c" stroke-width="0.5"/><line x1="200.8" y1="589.7" x2="207" y2="589.7" stroke="#5c5c5c" stroke-width="0.5"/><line x1="202.1" y1="581.5" x2="202.1" y2="592.9" stroke="#5c5c5c" stroke-width="0.5"/><line x1="205.7" y1="581.5" x2="205.7" y2="592.9" stroke="#5c5c5c" stroke-width="0.5"/><rect x="61.4" y="755" width="15.4" height="18.4" rx="0" fill="none" stroke="#5c5c5c" stroke-width="1.0"/><rect x="64.4" y="757.5" width="7.4" height="13" rx="3.7" fill="none" stroke="#5c5c5c" stroke-width="1.0"/><line x1="65" y1="761.5" x2="71.2" y2="761.5" stroke="#5c5c5c" stroke-width="0.5"/><line x1="65" y1="764" x2="71.2" y2="764" stroke="#5c5c5c" stroke-width="0.5"/><line x1="65" y1="766.5" x2="71.2" y2="766.5" stroke="#5c5c5c" stroke-width="0.5"/><line x1="66.3" y1="758.3" x2="66.3" y2="769.7" stroke="#5c5c5c" stroke-width="0.5"/><line x1="69.9" y1="758.3" x2="69.9" y2="769.7" stroke="#5c5c5c" stroke-width="0.5"/><rect x="195.4" y="755" width="15.4" height="18.4" rx="0" fill="none" stroke="#5c5c5c" stroke-width="1.0"/><rect x="200.2" y="757.5" width="7.4" height="13" rx="3.7" fill="none" stroke="#5c5c5c" stroke-width="1.0"/><line x1="200.8" y1="761.5" x2="207" y2="761.5" stroke="#5c5c5c" stroke-width="0.5"/><line x1="200.8" y1="764" x2="207" y2="764" stroke="#5c5c5c" stroke-width="0.5"/><line x1="200.8" y1="766.5" x2="207" y2="766.5" stroke="#5c5c5c" stroke-width="0.5"/><line x1="202.1" y1="758.3" x2="202.1" y2="769.7" stroke="#5c5c5c" stroke-width="0.5"/><line x1="205.7" y1="758.3" x2="205.7" y2="769.7" stroke="#5c5c5c" stroke-width="0.5"/><rect x="76.7" y="581.6" width="2.6" height="11.2" rx="0" fill="none" stroke="#5c5c5c" stroke-width="0.7"/><rect x="193.3" y="581.6" width="2.6" height="11.2" rx="0" fill="none" stroke="#5c5c5c" stroke-width="0.7"/><rect x="76.7" y="758.5" width="2.6" height="11.2" rx="0" fill="none" stroke="#5c5c5c" stroke-width="0.7"/><rect x="193.3" y="758.5" width="2.6" height="11.2" rx="0" fill="none" stroke="#5c5c5c" stroke-width="0.7"/><path d="M91.74,698.4 L180.86,698.4 A7.3 7.3 0 0 0 191.2,707.55 L191.2,758.25 A7.3 7.3 0 0 0 180.86,767.4 L91.74,767.4 A7.3 7.3 0 0 0 81.4,758.25 L81.4,707.55 A7.3 7.3 0 0 0 91.74,698.4 Z" fill="none" stroke="#5c5c5c" stroke-width="1.0"/><circle cx="85" cy="701.2" r="3.2" fill="none" stroke="#5c5c5c" stroke-width="0.7"/><circle cx="187.6" cy="701.2" r="3.2" fill="none" stroke="#5c5c5c" stroke-width="0.7"/><circle cx="187.6" cy="764.6" r="3.2" fill="none" stroke="#5c5c5c" stroke-width="0.7"/><circle cx="85" cy="764.6" r="3.2" fill="none" stroke="#5c5c5c" stroke-width="0.7"/><text x="94.6" y="715" font-size="10" text-anchor="start" fill="#2a2a2a" letter-spacing="0.8">Exe</text><rect x="114.3" y="729.6" width="43.7" height="22.1" rx="0" fill="#8a8a8a" stroke="#5c5c5c" stroke-width="0.9"/><rect x="116" y="731.3" width="40.3" height="18.7" rx="2.6" fill="#fff" stroke="#5c5c5c" stroke-width="0.7"/><line x1="152" y1="731.3" x2="152" y2="750" stroke="#5c5c5c" stroke-width="0.8"/><path d="M184,770 A3 3 0 0 0 190,770" fill="none" stroke="#5c5c5c" stroke-width="0.7"/><line x1="184" y1="770" x2="190" y2="770" stroke="#5c5c5c" stroke-width="0.7"/><path d="M98.7,769.3 L98.7,782.5 Q98.7,784 100.3,784 L119.2,784 Q120.8,784 120.8,782.5 L120.8,769.3" fill="none" stroke="#5c5c5c" stroke-width="1.0"/><rect x="101.3" y="784.3" width="16.9" height="2.9" rx="1" fill="none" stroke="#5c5c5c" stroke-width="1.0"/><rect x="103.6" y="787.8" width="12.4" height="2" rx="0" fill="#aaa" stroke="#5c5c5c" stroke-width="0.6"/><rect x="101.3" y="790.4" width="16.9" height="3.1" rx="1" fill="none" stroke="#5c5c5c" stroke-width="1.0"/><rect x="97.6" y="793.2" width="24.4" height="6.4" rx="0" fill="none" stroke="#5c5c5c" stroke-width="0.9"/><circle cx="101.3" cy="796.5" r="1.9" fill="none" stroke="#5c5c5c" stroke-width="0.8"/><circle cx="101.3" cy="796.5" r="0.7" fill="none" stroke="#5c5c5c" stroke-width="0.5"/><circle cx="118.2" cy="796.5" r="1.9" fill="none" stroke="#5c5c5c" stroke-width="0.8"/><circle cx="118.2" cy="796.5" r="0.7" fill="none" stroke="#5c5c5c" stroke-width="0.5"/><path d="M102.2,799.6 Q102,804.6 99.3,807.6 L120.5,807.6 Q117.7,804.6 117.1,799.6" fill="none" stroke="#5c5c5c" stroke-width="0.9"/><path d="M151.2,769.3 L151.2,782.5 Q151.2,784 152.8,784 L172.5,784 Q174.1,784 174.1,782.5 L174.1,769.3" fill="none" stroke="#5c5c5c" stroke-width="1.0"/><rect x="153.8" y="784.3" width="17.7" height="2.9" rx="1" fill="none" stroke="#5c5c5c" stroke-width="1.0"/><rect x="156.1" y="787.8" width="13.2" height="2" rx="0" fill="#aaa" stroke="#5c5c5c" stroke-width="0.6"/><rect x="153.8" y="790.4" width="17.7" height="3.1" rx="1" fill="none" stroke="#5c5c5c" stroke-width="1.0"/><rect x="150.1" y="793.2" width="25.2" height="6.4" rx="0" fill="none" stroke="#5c5c5c" stroke-width="0.9"/><circle cx="153.8" cy="796.5" r="1.9" fill="none" stroke="#5c5c5c" stroke-width="0.8"/><circle cx="153.8" cy="796.5" r="0.7" fill="none" stroke="#5c5c5c" stroke-width="0.5"/><circle cx="171.5" cy="796.5" r="1.9" fill="none" stroke="#5c5c5c" stroke-width="0.8"/><circle cx="171.5" cy="796.5" r="0.7" fill="none" stroke="#5c5c5c" stroke-width="0.5"/><path d="M154.7,799.6 Q154.5,804.6 151.8,807.6 L173.8,807.6 Q171,804.6 170.4,799.6" fill="none" stroke="#5c5c5c" stroke-width="0.9"/><line x1="190" y1="788.8" x2="227.5" y2="788.8" stroke="#5c5c5c" stroke-width="0.7"/><polygon points="200,788.8 195,789.9 195,787.7" fill="#333"/><polygon points="208,788.8 213,787.7 213,789.9" fill="#333"/><line x1="200" y1="770.5" x2="200" y2="792.5" stroke="#5c5c5c" stroke-width="0.7"/><line x1="208" y1="770.5" x2="208" y2="792.5" stroke="#5c5c5c" stroke-width="0.7"/><text x="216.3" y="785.9" font-size="7.8" text-anchor="middle" fill="#333">11</text><circle cx="136.3" cy="638.2" r="55.8" fill="none" stroke="#5c5c5c" stroke-width="0.9"/><circle cx="85.2" cy="608.7" r="5.6" fill="none" stroke="#5c5c5c" stroke-width="0.9"/><circle cx="85.2" cy="667.7" r="5.6" fill="none" stroke="#5c5c5c" stroke-width="0.9"/><circle cx="187.4" cy="608.7" r="5.6" fill="none" stroke="#5c5c5c" stroke-width="0.9"/><circle cx="187.4" cy="667.7" r="5.6" fill="none" stroke="#5c5c5c" stroke-width="0.9"/><circle cx="94.58" cy="596.48" r="5.6" fill="none" stroke="#5c5c5c" stroke-width="0.9"/><circle cx="94.58" cy="679.92" r="5.6" fill="none" stroke="#5c5c5c" stroke-width="0.9"/><circle cx="178.02" cy="596.48" r="5.6" fill="none" stroke="#5c5c5c" stroke-width="0.9"/><circle cx="178.02" cy="679.92" r="5.6" fill="none" stroke="#5c5c5c" stroke-width="0.9"/><circle cx="106.8" cy="587.1" r="5.6" fill="none" stroke="#5c5c5c" stroke-width="0.9"/><circle cx="106.8" cy="689.3" r="5.6" fill="none" stroke="#5c5c5c" stroke-width="0.9"/><circle cx="165.8" cy="587.1" r="5.6" fill="none" stroke="#5c5c5c" stroke-width="0.9"/><circle cx="165.8" cy="689.3" r="5.6" fill="none" stroke="#5c5c5c" stroke-width="0.9"/><circle cx="136.3" cy="638.2" r="55.35" fill="#fff" stroke="#5c5c5c" stroke-width="0"/><circle cx="85.2" cy="608.7" r="5.15" fill="#fff" stroke="#5c5c5c" stroke-width="0"/><circle cx="85.2" cy="667.7" r="5.15" fill="#fff" stroke="#5c5c5c" stroke-width="0"/><circle cx="187.4" cy="608.7" r="5.15" fill="#fff" stroke="#5c5c5c" stroke-width="0"/><circle cx="187.4" cy="667.7" r="5.15" fill="#fff" stroke="#5c5c5c" stroke-width="0"/><circle cx="94.58" cy="596.48" r="5.15" fill="#fff" stroke="#5c5c5c" stroke-width="0"/><circle cx="94.58" cy="679.92" r="5.15" fill="#fff" stroke="#5c5c5c" stroke-width="0"/><circle cx="178.02" cy="596.48" r="5.15" fill="#fff" stroke="#5c5c5c" stroke-width="0"/><circle cx="178.02" cy="679.92" r="5.15" fill="#fff" stroke="#5c5c5c" stroke-width="0"/><circle cx="106.8" cy="587.1" r="5.15" fill="#fff" stroke="#5c5c5c" stroke-width="0"/><circle cx="106.8" cy="689.3" r="5.15" fill="#fff" stroke="#5c5c5c" stroke-width="0"/><circle cx="165.8" cy="587.1" r="5.15" fill="#fff" stroke="#5c5c5c" stroke-width="0"/><circle cx="165.8" cy="689.3" r="5.15" fill="#fff" stroke="#5c5c5c" stroke-width="0"/><circle cx="136.3" cy="638.2" r="52.3" fill="none" stroke="#5c5c5c" stroke-width="0.9"/><circle cx="85.2" cy="608.7" r="3.1" fill="#fff" stroke="#5c5c5c" stroke-width="0.8"/><circle cx="85.2" cy="667.7" r="3.1" fill="#fff" stroke="#5c5c5c" stroke-width="0.8"/><circle cx="187.4" cy="608.7" r="3.1" fill="#fff" stroke="#5c5c5c" stroke-width="0.8"/><circle cx="187.4" cy="667.7" r="3.1" fill="#fff" stroke="#5c5c5c" stroke-width="0.8"/><circle cx="94.58" cy="596.48" r="3.1" fill="#fff" stroke="#5c5c5c" stroke-width="0.8"/><circle cx="94.58" cy="679.92" r="3.1" fill="#fff" stroke="#5c5c5c" stroke-width="0.8"/><circle cx="178.02" cy="596.48" r="3.1" fill="#fff" stroke="#5c5c5c" stroke-width="0.8"/><circle cx="178.02" cy="679.92" r="3.1" fill="#fff" stroke="#5c5c5c" stroke-width="0.8"/><circle cx="106.8" cy="587.1" r="3.1" fill="#fff" stroke="#5c5c5c" stroke-width="0.8"/><circle cx="106.8" cy="689.3" r="3.1" fill="#fff" stroke="#5c5c5c" stroke-width="0.8"/><circle cx="165.8" cy="587.1" r="3.1" fill="#fff" stroke="#5c5c5c" stroke-width="0.8"/><circle cx="165.8" cy="689.3" r="3.1" fill="#fff" stroke="#5c5c5c" stroke-width="0.8"/><text x="123" y="606.2" font-size="13" text-anchor="start" fill="#2a2a2a" letter-spacing="1.3">Exd</text><rect x="118.4" y="622.6" width="35.2" height="34.7" rx="1.5" fill="none" stroke="#5c5c5c" stroke-width="0.9"/><text x="125.5" y="630.2" font-size="5.2" text-anchor="middle" fill="#333" stroke="#333" stroke-width="0.25">分</text><text x="146.5" y="630.2" font-size="5.2" text-anchor="middle" fill="#333" stroke="#333" stroke-width="0.25">合</text><circle cx="135.7" cy="640.2" r="8.4" fill="none" stroke="#5c5c5c" stroke-width="0.9"/><line x1="127.3" y1="640.2" x2="144.1" y2="640.2" stroke="#5c5c5c" stroke-width="0.7"/><line x1="135.7" y1="631.8" x2="135.7" y2="648.6" stroke="#5c5c5c" stroke-width="0.7"/><path d="M130.1,634.2 A9 9 0 0 1 143.1,641.4" fill="none" stroke="#5c5c5c" stroke-width="0.8"/><line x1="130.1" y1="634.2" x2="136.5" y2="646.8" stroke="#5c5c5c" stroke-width="0.8"/><circle cx="135.7" cy="640.2" r="1.3" fill="none" stroke="#5c5c5c" stroke-width="0.6"/><path d="M132.7,643 L144.7,653.1 A2.3 2.3 0 0 0 148.1,649.6 L139,640" fill="#fff" stroke="#5c5c5c" stroke-width="0.9"/><line x1="474.6" y1="540.5" x2="626.3" y2="540.5" stroke="#5c5c5c" stroke-width="1.0"/><polygon points="474.6,540.5 481.1,539.4 481.1,541.6" fill="#333"/><polygon points="626.3,540.5 619.8,541.6 619.8,539.4" fill="#333"/><text x="548.8" y="538.5" font-size="7.8" text-anchor="middle" fill="#333">C</text><line x1="481.3" y1="555" x2="618" y2="555" stroke="#5c5c5c" stroke-width="1.0"/><polygon points="481.3,555 487.8,553.9 487.8,556.1" fill="#333"/><polygon points="618,555 611.5,556.1 611.5,553.9" fill="#333"/><text x="548.8" y="553" font-size="7.8" text-anchor="middle" fill="#333">B</text><line x1="491.6" y1="565.5" x2="607.6" y2="565.5" stroke="#5c5c5c" stroke-width="1.0"/><polygon points="491.6,565.5 498.1,564.4 498.1,566.6" fill="#333"/><polygon points="607.6,565.5 601.1,566.6 601.1,564.4" fill="#333"/><text x="548.8" y="563.5" font-size="7.8" text-anchor="middle" fill="#333">A</text><line x1="474.6" y1="536.5" x2="474.6" y2="570" stroke="#5c5c5c" stroke-width="0.7"/><line x1="626.3" y1="536.5" x2="626.3" y2="570" stroke="#5c5c5c" stroke-width="0.7"/><line x1="481.3" y1="551" x2="481.3" y2="585" stroke="#5c5c5c" stroke-width="0.7"/><line x1="618" y1="551" x2="618" y2="585" stroke="#5c5c5c" stroke-width="0.7"/><line x1="491.6" y1="561" x2="491.6" y2="572.8" stroke="#5c5c5c" stroke-width="0.7"/><line x1="607.6" y1="561" x2="607.6" y2="572.8" stroke="#5c5c5c" stroke-width="0.7"/><line x1="614.6" y1="765.5" x2="614.6" y2="786.5" stroke="#5c5c5c" stroke-width="0.7"/><line x1="622.6" y1="765.5" x2="622.6" y2="786.5" stroke="#5c5c5c" stroke-width="0.7"/><line x1="448.8" y1="571.3" x2="474.6" y2="571.3" stroke="#5c5c5c" stroke-width="0.7"/><line x1="460.5" y1="580" x2="474.6" y2="580" stroke="#5c5c5c" stroke-width="0.7"/><line x1="460.5" y1="757.5" x2="474.6" y2="757.5" stroke="#5c5c5c" stroke-width="0.7"/><line x1="446" y1="802.6" x2="512" y2="802.6" stroke="#5c5c5c" stroke-width="0.7"/><line x1="626.3" y1="571.3" x2="636" y2="571.3" stroke="#5c5c5c" stroke-width="0.7"/><line x1="626.3" y1="766" x2="639" y2="766" stroke="#5c5c5c" stroke-width="0.7"/><line x1="606" y1="579.3" x2="627" y2="579.3" stroke="#5c5c5c" stroke-width="0.7"/><line x1="606" y1="757.5" x2="627" y2="757.5" stroke="#5c5c5c" stroke-width="0.7"/><line x1="451.3" y1="571.3" x2="451.3" y2="802.6" stroke="#5c5c5c" stroke-width="0.7"/><polygon points="451.3,571.3 452.4,577.8 450.2,577.8" fill="#333"/><polygon points="451.3,802.6 450.2,796.1 452.4,796.1" fill="#333"/><text x="448.6" y="690" font-size="7.6" text-anchor="middle" fill="#333" transform="rotate(-90 448.6 690)">F</text><line x1="462" y1="580" x2="462" y2="757.5" stroke="#5c5c5c" stroke-width="0.7"/><polygon points="462,580 463.1,586.5 460.9,586.5" fill="#333"/><polygon points="462,757.5 460.9,751 463.1,751" fill="#333"/><text x="460" y="670.5" font-size="7.6" text-anchor="middle" fill="#333" transform="rotate(-90 460 670.5)">D</text><line x1="632.3" y1="571.3" x2="632.3" y2="766" stroke="#5c5c5c" stroke-width="0.7"/><polygon points="632.3,571.3 633.4,577.8 631.2,577.8" fill="#333"/><polygon points="632.3,766 631.2,759.5 633.4,759.5" fill="#333"/><text x="628.3" y="669.6" font-size="7.6" text-anchor="middle" fill="#333" transform="rotate(-90 628.3 669.6)">E</text><rect x="491.6" y="572.8" width="116" height="191.2" rx="0" fill="none" stroke="#5c5c5c" stroke-width="1.0"/><line x1="491.6" y1="688.3" x2="607.6" y2="688.3" stroke="#777" stroke-width="1.6"/><rect x="474.6" y="570" width="15.4" height="18.4" rx="0" fill="none" stroke="#5c5c5c" stroke-width="1.0"/><rect x="477.6" y="572.8" width="7.4" height="13" rx="3.7" fill="none" stroke="#5c5c5c" stroke-width="1.0"/><line x1="478.2" y1="576.8" x2="484.4" y2="576.8" stroke="#5c5c5c" stroke-width="0.5"/><line x1="478.2" y1="579.3" x2="484.4" y2="579.3" stroke="#5c5c5c" stroke-width="0.5"/><line x1="478.2" y1="581.8" x2="484.4" y2="581.8" stroke="#5c5c5c" stroke-width="0.5"/><line x1="479.5" y1="573.6" x2="479.5" y2="585" stroke="#5c5c5c" stroke-width="0.5"/><line x1="483.1" y1="573.6" x2="483.1" y2="585" stroke="#5c5c5c" stroke-width="0.5"/><rect x="610.8" y="570" width="15.4" height="18.4" rx="0" fill="none" stroke="#5c5c5c" stroke-width="1.0"/><rect x="614.3" y="572.8" width="7.4" height="13" rx="3.7" fill="none" stroke="#5c5c5c" stroke-width="1.0"/><line x1="614.9" y1="576.8" x2="621.1" y2="576.8" stroke="#5c5c5c" stroke-width="0.5"/><line x1="614.9" y1="579.3" x2="621.1" y2="579.3" stroke="#5c5c5c" stroke-width="0.5"/><line x1="614.9" y1="581.8" x2="621.1" y2="581.8" stroke="#5c5c5c" stroke-width="0.5"/><line x1="616.2" y1="573.6" x2="616.2" y2="585" stroke="#5c5c5c" stroke-width="0.5"/><line x1="619.8" y1="573.6" x2="619.8" y2="585" stroke="#5c5c5c" stroke-width="0.5"/><rect x="474.6" y="748.8" width="15.4" height="18.4" rx="0" fill="none" stroke="#5c5c5c" stroke-width="1.0"/><rect x="477.6" y="751.5" width="7.4" height="13" rx="3.7" fill="none" stroke="#5c5c5c" stroke-width="1.0"/><line x1="478.2" y1="755.5" x2="484.4" y2="755.5" stroke="#5c5c5c" stroke-width="0.5"/><line x1="478.2" y1="758" x2="484.4" y2="758" stroke="#5c5c5c" stroke-width="0.5"/><line x1="478.2" y1="760.5" x2="484.4" y2="760.5" stroke="#5c5c5c" stroke-width="0.5"/><line x1="479.5" y1="752.3" x2="479.5" y2="763.7" stroke="#5c5c5c" stroke-width="0.5"/><line x1="483.1" y1="752.3" x2="483.1" y2="763.7" stroke="#5c5c5c" stroke-width="0.5"/><rect x="610.8" y="748.8" width="15.4" height="18.4" rx="0" fill="none" stroke="#5c5c5c" stroke-width="1.0"/><rect x="614.3" y="751.5" width="7.4" height="13" rx="3.7" fill="none" stroke="#5c5c5c" stroke-width="1.0"/><line x1="614.9" y1="755.5" x2="621.1" y2="755.5" stroke="#5c5c5c" stroke-width="0.5"/><line x1="614.9" y1="758" x2="621.1" y2="758" stroke="#5c5c5c" stroke-width="0.5"/><line x1="614.9" y1="760.5" x2="621.1" y2="760.5" stroke="#5c5c5c" stroke-width="0.5"/><line x1="616.2" y1="752.3" x2="616.2" y2="763.7" stroke="#5c5c5c" stroke-width="0.5"/><line x1="619.8" y1="752.3" x2="619.8" y2="763.7" stroke="#5c5c5c" stroke-width="0.5"/><rect x="489.2" y="573.5" width="2.6" height="11.2" rx="0" fill="none" stroke="#5c5c5c" stroke-width="0.7"/><rect x="607.8" y="573.5" width="2.6" height="11.2" rx="0" fill="none" stroke="#5c5c5c" stroke-width="0.7"/><rect x="489.2" y="752" width="2.6" height="11.2" rx="0" fill="none" stroke="#5c5c5c" stroke-width="0.7"/><rect x="607.8" y="752" width="2.6" height="11.2" rx="0" fill="none" stroke="#5c5c5c" stroke-width="0.7"/><path d="M504.94,691.3 L595.86,691.3 A7.3 7.3 0 0 0 606.2,700.45 L606.2,753.35 A7.3 7.3 0 0 0 595.86,762.5 L504.94,762.5 A7.3 7.3 0 0 0 494.6,753.35 L494.6,700.45 A7.3 7.3 0 0 0 504.94,691.3 Z" fill="none" stroke="#5c5c5c" stroke-width="1.0"/><circle cx="498.2" cy="694.1" r="3.2" fill="none" stroke="#5c5c5c" stroke-width="0.7"/><circle cx="602.6" cy="694.1" r="3.2" fill="none" stroke="#5c5c5c" stroke-width="0.7"/><circle cx="602.6" cy="759.7" r="3.2" fill="none" stroke="#5c5c5c" stroke-width="0.7"/><circle cx="498.2" cy="759.7" r="3.2" fill="none" stroke="#5c5c5c" stroke-width="0.7"/><text x="511.3" y="710.3" font-size="10" text-anchor="start" fill="#2a2a2a" letter-spacing="0.8">Exe</text><rect x="527.5" y="726.3" width="44.5" height="22.5" rx="0" fill="#8a8a8a" stroke="#5c5c5c" stroke-width="0.9"/><rect x="529.2" y="728" width="41.1" height="19.1" rx="2.6" fill="#fff" stroke="#5c5c5c" stroke-width="0.7"/><line x1="565" y1="728" x2="565" y2="747.1" stroke="#5c5c5c" stroke-width="0.8"/><path d="M598.3,765.3 A3 3 0 0 0 604.3,765.3" fill="none" stroke="#5c5c5c" stroke-width="0.7"/><line x1="598.3" y1="765.3" x2="604.3" y2="765.3" stroke="#5c5c5c" stroke-width="0.7"/><path d="M511.1,764 L511.1,777.2 Q511.1,778.7 512.7,778.7 L533.7,778.7 Q535.3,778.7 535.3,777.2 L535.3,764" fill="none" stroke="#5c5c5c" stroke-width="1.0"/><rect x="513.7" y="779" width="19" height="2.9" rx="1" fill="none" stroke="#5c5c5c" stroke-width="1.0"/><rect x="516" y="782.5" width="14.5" height="2" rx="0" fill="#aaa" stroke="#5c5c5c" stroke-width="0.6"/><rect x="513.7" y="785.1" width="19" height="3.1" rx="1" fill="none" stroke="#5c5c5c" stroke-width="1.0"/><rect x="510" y="787.9" width="26.5" height="6.4" rx="0" fill="none" stroke="#5c5c5c" stroke-width="0.9"/><circle cx="513.7" cy="791.2" r="1.9" fill="none" stroke="#5c5c5c" stroke-width="0.8"/><circle cx="513.7" cy="791.2" r="0.7" fill="none" stroke="#5c5c5c" stroke-width="0.5"/><circle cx="532.7" cy="791.2" r="1.9" fill="none" stroke="#5c5c5c" stroke-width="0.8"/><circle cx="532.7" cy="791.2" r="0.7" fill="none" stroke="#5c5c5c" stroke-width="0.5"/><path d="M514.6,794.3 Q514.4,799.6 511.7,802.6 L535,802.6 Q532.2,799.6 531.6,794.3" fill="none" stroke="#5c5c5c" stroke-width="0.9"/><path d="M564.9,764 L564.9,777.2 Q564.9,778.7 566.5,778.7 L587.5,778.7 Q589.1,778.7 589.1,777.2 L589.1,764" fill="none" stroke="#5c5c5c" stroke-width="1.0"/><rect x="567.5" y="779" width="19" height="2.9" rx="1" fill="none" stroke="#5c5c5c" stroke-width="1.0"/><rect x="569.8" y="782.5" width="14.5" height="2" rx="0" fill="#aaa" stroke="#5c5c5c" stroke-width="0.6"/><rect x="567.5" y="785.1" width="19" height="3.1" rx="1" fill="none" stroke="#5c5c5c" stroke-width="1.0"/><rect x="563.8" y="787.9" width="26.5" height="6.4" rx="0" fill="none" stroke="#5c5c5c" stroke-width="0.9"/><circle cx="567.5" cy="791.2" r="1.9" fill="none" stroke="#5c5c5c" stroke-width="0.8"/><circle cx="567.5" cy="791.2" r="0.7" fill="none" stroke="#5c5c5c" stroke-width="0.5"/><circle cx="586.5" cy="791.2" r="1.9" fill="none" stroke="#5c5c5c" stroke-width="0.8"/><circle cx="586.5" cy="791.2" r="0.7" fill="none" stroke="#5c5c5c" stroke-width="0.5"/><path d="M568.4,794.3 Q568.2,799.6 565.5,802.6 L588.8,802.6 Q586,799.6 585.4,794.3" fill="none" stroke="#5c5c5c" stroke-width="0.9"/><line x1="604" y1="783" x2="640" y2="783" stroke="#5c5c5c" stroke-width="0.7"/><polygon points="614.6,783 609.6,784.1 609.6,781.9" fill="#333"/><polygon points="622.6,783 627.6,781.9 627.6,784.1" fill="#333"/><line x1="614.6" y1="765.5" x2="614.6" y2="786.5" stroke="#5c5c5c" stroke-width="0.7"/><line x1="622.6" y1="765.5" x2="622.6" y2="786.5" stroke="#5c5c5c" stroke-width="0.7"/><text x="631" y="780" font-size="7.8" text-anchor="middle" fill="#333">11</text><path d="M504.2,579.3 L544.2,579.3 A6.2 6.2 0 0 0 556.6,579.3 L596.6,579.3 A6.2 6.2 0 0 0 602.8,585.5 L602.8,624.3 A6.2 6.2 0 0 0 602.8,636.7 L602.8,675.5 A6.2 6.2 0 0 0 596.6,681.7 L556.6,681.7 A6.2 6.2 0 0 0 544.2,681.7 L504.2,681.7 A6.2 6.2 0 0 0 498,675.5 L498,636.7 A6.2 6.2 0 0 0 498,624.3 L498,585.5 A6.2 6.2 0 0 0 504.2,579.3 Z" fill="none" stroke="#5c5c5c" stroke-width="1.0"/><circle cx="498" cy="579.3" r="3.3" fill="#fff" stroke="#5c5c5c" stroke-width="0.8"/><circle cx="550.4" cy="579.3" r="3.3" fill="#fff" stroke="#5c5c5c" stroke-width="0.8"/><circle cx="602.8" cy="579.3" r="3.3" fill="#fff" stroke="#5c5c5c" stroke-width="0.8"/><circle cx="498" cy="630.5" r="3.3" fill="#fff" stroke="#5c5c5c" stroke-width="0.8"/><circle cx="602.8" cy="630.5" r="3.3" fill="#fff" stroke="#5c5c5c" stroke-width="0.8"/><circle cx="498" cy="681.7" r="3.3" fill="#fff" stroke="#5c5c5c" stroke-width="0.8"/><circle cx="550.4" cy="681.7" r="3.3" fill="#fff" stroke="#5c5c5c" stroke-width="0.8"/><circle cx="602.8" cy="681.7" r="3.3" fill="#fff" stroke="#5c5c5c" stroke-width="0.8"/><text x="537.8" y="604.8" font-size="13" text-anchor="start" fill="#2a2a2a" letter-spacing="1.3">Exd</text><rect x="533.4" y="627.6" width="35.2" height="34.7" rx="1.5" fill="none" stroke="#5c5c5c" stroke-width="0.9"/><text x="540.5" y="635.2" font-size="5.2" text-anchor="middle" fill="#333" stroke="#333" stroke-width="0.25">分</text><text x="561.5" y="635.2" font-size="5.2" text-anchor="middle" fill="#333" stroke="#333" stroke-width="0.25">合</text><circle cx="550.7" cy="645.2" r="8.4" fill="none" stroke="#5c5c5c" stroke-width="0.9"/><line x1="542.3" y1="645.2" x2="559.1" y2="645.2" stroke="#5c5c5c" stroke-width="0.7"/><line x1="550.7" y1="636.8" x2="550.7" y2="653.6" stroke="#5c5c5c" stroke-width="0.7"/><path d="M545.1,639.2 A9 9 0 0 1 558.1,646.4" fill="none" stroke="#5c5c5c" stroke-width="0.8"/><line x1="545.1" y1="639.2" x2="551.5" y2="651.8" stroke="#5c5c5c" stroke-width="0.8"/><circle cx="550.7" cy="645.2" r="1.3" fill="none" stroke="#5c5c5c" stroke-width="0.6"/><path d="M547.7,648 L559.7,658.1 A2.3 2.3 0 0 0 563.1,654.6 L554,645" fill="#fff" stroke="#5c5c5c" stroke-width="0.9"/><line x1="283.3" y1="559" x2="382.2" y2="559" stroke="#5c5c5c" stroke-width="1.0"/><polygon points="283.3,559 289.8,557.9 289.8,560.1" fill="#333"/><polygon points="382.2,559 375.7,560.1 375.7,557.9" fill="#333"/><text x="331.2" y="557.2" font-size="7.2" text-anchor="middle" fill="#333">G</text><line x1="283.3" y1="555.5" x2="283.3" y2="578" stroke="#5c5c5c" stroke-width="0.7"/><line x1="382.2" y1="555.5" x2="382.2" y2="642" stroke="#5c5c5c" stroke-width="0.7"/><rect x="283.4" y="578.2" width="2" height="18" rx="0" fill="#777" stroke="#5c5c5c" stroke-width="0.5"/><rect x="283.4" y="754.2" width="2.2" height="18.2" rx="0" fill="#777" stroke="#5c5c5c" stroke-width="0.5"/><path d="M285.4,581.6 L294.6,581.6 L294.6,583.4 L325,583.4 L325,581.6 L346.5,581.6 L346.5,694.3 L285.4,694.3 Z" fill="none" stroke="#5c5c5c" stroke-width="1.0"/><line x1="294.6" y1="583.4" x2="294.6" y2="694.3" stroke="#5c5c5c" stroke-width="1.0"/><line x1="325" y1="581.6" x2="325" y2="694.3" stroke="#5c5c5c" stroke-width="1.0"/><line x1="341.6" y1="581.6" x2="341.6" y2="694.3" stroke="#5c5c5c" stroke-width="1.0"/><path d="M346.5,584.2 L360.5,584.2 Q363.8,584.2 363.8,587.5 L363.8,683.8 Q363.8,687.1 360.5,687.1 L346.5,687.1" fill="none" stroke="#5c5c5c" stroke-width="1.0"/><path d="M363.8,596.3 L365.2,596.3 Q366.6,596.3 366.6,598.5 L366.6,615.3 Q366.6,617.5 365.2,617.5 L363.8,617.5" fill="none" stroke="#5c5c5c" stroke-width="1.0"/><rect x="363.8" y="627.2" width="4.4" height="35.4" rx="0.8" fill="none" stroke="#5c5c5c" stroke-width="1.0"/><rect x="368.2" y="634" width="2.6" height="19.8" rx="0.5" fill="none" stroke="#5c5c5c" stroke-width="1.0"/><path d="M370.8,640 L380.7,641.2 Q382.2,641.4 382.2,644.6 Q382.2,647.8 380.7,648 L370.8,649.2" fill="none" stroke="#5c5c5c" stroke-width="0.8"/><line x1="373.3" y1="640.5" x2="373.3" y2="648.7" stroke="#5c5c5c" stroke-width="0.5"/><rect x="346.8" y="583.8" width="2.8" height="4.4" rx="0.6" fill="none" stroke="#5c5c5c" stroke-width="0.6"/><line x1="346.8" y1="586" x2="349.6" y2="586" stroke="#5c5c5c" stroke-width="0.4"/><rect x="347.8" y="688.2" width="2.8" height="4.4" rx="0.6" fill="none" stroke="#5c5c5c" stroke-width="0.6"/><line x1="347.8" y1="690.4" x2="350.6" y2="690.4" stroke="#5c5c5c" stroke-width="0.4"/><rect x="282.2" y="685.4" width="2.8" height="4.4" rx="0.6" fill="none" stroke="#5c5c5c" stroke-width="0.6"/><line x1="282.2" y1="687.6" x2="285" y2="687.6" stroke="#5c5c5c" stroke-width="0.4"/><rect x="282.2" y="699.6" width="2.8" height="4.4" rx="0.6" fill="none" stroke="#5c5c5c" stroke-width="0.6"/><line x1="282.2" y1="701.8" x2="285" y2="701.8" stroke="#5c5c5c" stroke-width="0.4"/><path d="M285.8,695.0 L346.6,695.0 L348.4,697.0 L348.4,768.2 L346.6,770.1 L285.8,770.1 Z" fill="none" stroke="#5c5c5c" stroke-width="1.0"/><line x1="339.7" y1="695" x2="339.7" y2="770.1" stroke="#5c5c5c" stroke-width="1.0"/><rect x="348.6" y="699.6" width="2.8" height="4.4" rx="0.6" fill="none" stroke="#5c5c5c" stroke-width="0.6"/><line x1="348.6" y1="701.8" x2="351.4" y2="701.8" stroke="#5c5c5c" stroke-width="0.4"/><rect x="348.6" y="761.1" width="2.8" height="4.4" rx="0.6" fill="none" stroke="#5c5c5c" stroke-width="0.6"/><line x1="348.6" y1="763.3" x2="351.4" y2="763.3" stroke="#5c5c5c" stroke-width="0.4"/><path d="M303.4,769.55 L303.4,782.65 Q303.4,784.2 304.9,784.2 L323.85,784.2 Q325.35,784.2 325.35,782.65 L325.35,769.55" fill="none" stroke="#5c5c5c" stroke-width="1.0"/><rect x="306.2" y="784.5" width="16.9" height="2.6" rx="0.8" fill="none" stroke="#5c5c5c" stroke-width="1.0"/><rect x="307.5" y="787.4" width="14.35" height="2.6" rx="0.8" fill="none" stroke="#5c5c5c" stroke-width="1.0"/><rect x="308.4" y="788.15" width="12.55" height="1.1" rx="0" fill="#bbb" stroke="#5c5c5c" stroke-width="0"/><rect x="305.6" y="790.6" width="18.15" height="3.15" rx="0.6" fill="none" stroke="#5c5c5c" stroke-width="1.0"/><path d="M305.6,793.75 L318.4,793.75 Q319.8,796.45 318.4,799.2 L305.6,799.2 Z" fill="none" stroke="#5c5c5c" stroke-width="1.0"/><rect x="314.2" y="794.15" width="3.6" height="4.7" rx="0" fill="#999" stroke="#5c5c5c" stroke-width="0.5"/><rect x="298.9" y="795.35" width="6.7" height="3.1" rx="0" fill="#eee" stroke="#5c5c5c" stroke-width="0.6"/><path d="M307.2,799.5 L321.85,799.5 Q322.2,804.1 324.7,807.3 Q324.7,808.1 323.7,808.1 L305.3,808.1 Q304.3,808.1 304.3,807.3 Q306.8,804.1 307.2,799.5 Z" fill="none" stroke="#5c5c5c" stroke-width="0.9"/><line x1="676.7" y1="565.9" x2="771.8" y2="565.9" stroke="#5c5c5c" stroke-width="1.0"/><polygon points="676.7,565.9 683.2,564.8 683.2,567" fill="#333"/><polygon points="771.8,565.9 765.3,567 765.3,564.8" fill="#333"/><text x="725.7" y="562.6" font-size="7.2" text-anchor="middle" fill="#333">G</text><line x1="676.7" y1="558" x2="676.7" y2="578" stroke="#5c5c5c" stroke-width="0.7"/><line x1="771.8" y1="558" x2="771.8" y2="642" stroke="#5c5c5c" stroke-width="0.7"/><rect x="676.8" y="570.5" width="1.8" height="17.6" rx="0" fill="#777" stroke="#5c5c5c" stroke-width="0.5"/><rect x="676.7" y="748.2" width="2" height="18.4" rx="0" fill="#777" stroke="#5c5c5c" stroke-width="0.5"/><rect x="678.6" y="573.7" width="60.8" height="114.2" rx="0" fill="none" stroke="#5c5c5c" stroke-width="1.0"/><line x1="734.4" y1="573.7" x2="734.4" y2="764" stroke="#5c5c5c" stroke-width="1.0"/><path d="M739.4,578.2 L748.3,578.2 Q753.1,578.2 753.1,583 L753.1,678.2 Q753.1,681.0 750.3,681.0 L739.4,681.0" fill="none" stroke="#5c5c5c" stroke-width="1.0"/><path d="M753.1,585.2 L754.6,585.2 Q756.0,585.2 756.0,587.2 L756.0,605.6 Q756.0,607.6 754.6,607.6 L753.1,607.6" fill="none" stroke="#5c5c5c" stroke-width="1.0"/><rect x="753.1" y="619.4" width="4.4" height="36.3" rx="0.8" fill="none" stroke="#5c5c5c" stroke-width="1.0"/><rect x="757.5" y="626" width="2.6" height="22.2" rx="0.5" fill="none" stroke="#5c5c5c" stroke-width="1.0"/><path d="M760.1,632.2 L770.3,633.4 Q771.8,633.6 771.8,637.2 Q771.8,640.8 770.3,641 L760.1,642.2" fill="none" stroke="#5c5c5c" stroke-width="0.8"/><line x1="762.6" y1="632.7" x2="762.6" y2="641.7" stroke="#5c5c5c" stroke-width="0.5"/><rect x="741" y="577" width="2.8" height="4.4" rx="0.6" fill="none" stroke="#5c5c5c" stroke-width="0.6"/><line x1="741" y1="579.2" x2="743.8" y2="579.2" stroke="#5c5c5c" stroke-width="0.4"/><rect x="741" y="680.8" width="2.8" height="4.4" rx="0.6" fill="none" stroke="#5c5c5c" stroke-width="0.6"/><line x1="741" y1="683" x2="743.8" y2="683" stroke="#5c5c5c" stroke-width="0.4"/><rect x="675.6" y="679.6" width="2.8" height="4.4" rx="0.6" fill="none" stroke="#5c5c5c" stroke-width="0.6"/><line x1="675.6" y1="681.8" x2="678.4" y2="681.8" stroke="#5c5c5c" stroke-width="0.4"/><rect x="675.6" y="693.6" width="2.8" height="4.4" rx="0.6" fill="none" stroke="#5c5c5c" stroke-width="0.6"/><line x1="675.6" y1="695.8" x2="678.4" y2="695.8" stroke="#5c5c5c" stroke-width="0.4"/><line x1="678.6" y1="687.9" x2="739.4" y2="687.9" stroke="#777" stroke-width="1.2"/><path d="M678.9,689.0 L741.3,689.0 L743.1,690.9 L743.1,762.1 L741.3,764.0 L678.9,764.0 Z" fill="none" stroke="#5c5c5c" stroke-width="1.0"/><rect x="742.6" y="692.7" width="2.8" height="4.4" rx="0.6" fill="none" stroke="#5c5c5c" stroke-width="0.6"/><line x1="742.6" y1="694.9" x2="745.4" y2="694.9" stroke="#5c5c5c" stroke-width="0.4"/><rect x="742.6" y="754.8" width="2.8" height="4.4" rx="0.6" fill="none" stroke="#5c5c5c" stroke-width="0.6"/><line x1="742.6" y1="757" x2="745.4" y2="757" stroke="#5c5c5c" stroke-width="0.4"/><path d="M697,764 L697,777.1 Q697,778.65 698.5,778.65 L717.7,778.65 Q719.2,778.65 719.2,777.1 L719.2,764" fill="none" stroke="#5c5c5c" stroke-width="1.0"/><rect x="699.8" y="778.95" width="17.15" height="2.6" rx="0.8" fill="none" stroke="#5c5c5c" stroke-width="1.0"/><rect x="701.1" y="781.85" width="14.6" height="2.6" rx="0.8" fill="none" stroke="#5c5c5c" stroke-width="1.0"/><rect x="702" y="782.6" width="12.8" height="1.1" rx="0" fill="#bbb" stroke="#5c5c5c" stroke-width="0"/><rect x="699.2" y="785.05" width="18.4" height="3.15" rx="0.6" fill="none" stroke="#5c5c5c" stroke-width="1.0"/><path d="M699.2,788.2 L712,788.2 Q713.4,790.9 712,793.65 L699.2,793.65 Z" fill="none" stroke="#5c5c5c" stroke-width="1.0"/><rect x="707.8" y="788.6" width="3.6" height="4.7" rx="0" fill="#999" stroke="#5c5c5c" stroke-width="0.5"/><rect x="692.4" y="789.8" width="6.8" height="3.1" rx="0" fill="#eee" stroke="#5c5c5c" stroke-width="0.6"/><path d="M700.8,793.95 L715.45,793.95 Q715.8,798.6 718.3,801.8 Q718.3,802.6 717.3,802.6 L698.9,802.6 Q697.9,802.6 697.9,801.8 Q700.4,798.6 700.8,793.95 Z" fill="none" stroke="#5c5c5c" stroke-width="0.9"/></svg>
</body></html>
